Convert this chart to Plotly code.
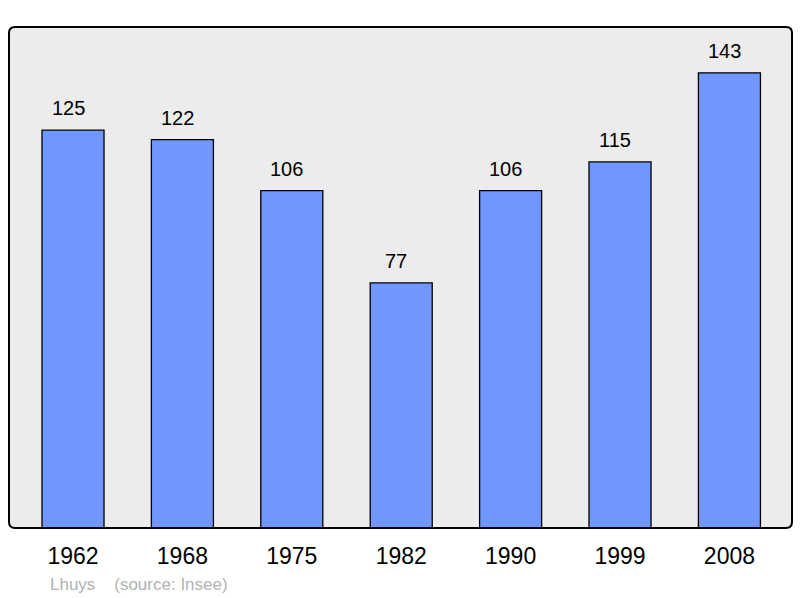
import plotly.graph_objects as go

years = ["1962", "1968", "1975", "1982", "1990", "1999", "2008"]
population = [125, 122, 106, 77, 106, 115, 143]
source_text = "Lhuys    (source: Insee)"

W, H = 800, 598
L, R, T, B = 9, 8, 27, 70
pw, ph = W - L - R, H - T - B

xs = list(range(len(years)))
fig = go.Figure()
fig.add_trace(go.Bar(
    x=xs, y=population, width=0.567,
    marker=dict(color="#7097ff", line=dict(color="#000000", width=1.3)),
    hoverinfo="skip",
))

for i, v in zip(xs, population):
    fig.add_annotation(x=i, y=v, text=str(v), showarrow=False, yanchor="bottom",
                       yshift=9, xshift=-5,
                       font=dict(family="Liberation Sans, Arial", size=20, color="#000"))

# rounded plot frame
r = 6
rx, ry = r / pw, r / ph
path = (f"M {rx},0 L {1-rx},0 Q 1,0 1,{ry} L 1,{1-ry} Q 1,1 {1-rx},1 "
        f"L {rx},1 Q 0,1 0,{1-ry} L 0,{ry} Q 0,0 {rx},0 Z")
fig.add_shape(type="path", path=path, xref="paper", yref="paper",
              fillcolor="#ececec", line=dict(width=0), layer="below")
fig.add_shape(type="path", path=path, xref="paper", yref="paper",
              fillcolor="rgba(0,0,0,0)", line=dict(color="#000", width=2), layer="above")

fig.add_annotation(x=(48 - L) / pw, y=-(596 - T - ph) / ph, xref="paper", yref="paper",
                   text=source_text, showarrow=False, xanchor="left", yanchor="bottom",
                   font=dict(family="Liberation Sans, Arial", size=17, color="#b3b3b3"))

fig.update_layout(
    width=W, height=H,
    margin=dict(l=L, r=R, t=T, b=B, pad=0),
    paper_bgcolor="#ffffff", plot_bgcolor="rgba(0,0,0,0)",
    showlegend=False,
    xaxis=dict(range=[-0.585, 6.572], tickvals=xs, ticktext=years, showgrid=False,
               zeroline=False, showline=False, ticks="outside", ticklen=7,
               tickcolor="rgba(0,0,0,0)",
               tickfont=dict(family="Liberation Sans, Arial", size=23, color="#000"),
               fixedrange=True),
    yaxis=dict(range=[0, 157.4], showgrid=False, zeroline=False, showline=False,
               showticklabels=False, ticks="", fixedrange=True),
)

fig.write_html("out.html", config={"displayModeBar": False},
               post_script="document.body.style.margin='0';")
